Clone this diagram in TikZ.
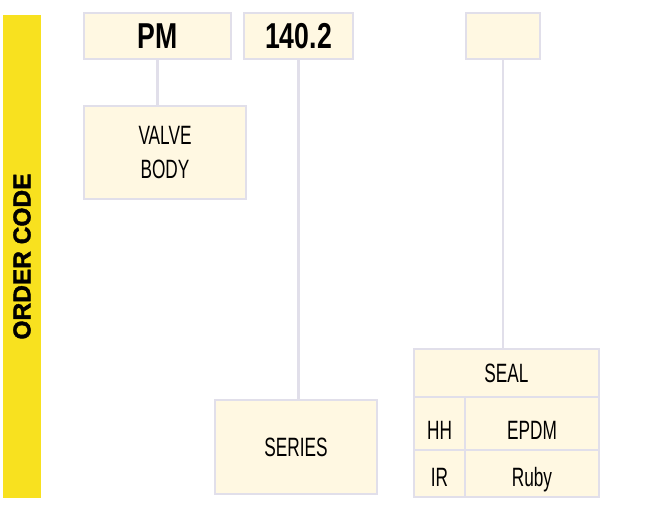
\documentclass[tikz,border=0pt]{standalone}
\usepackage{fontspec}
\setmainfont{Liberation Sans}[FakeStretch=0.65]
\newfontfamily\codefont{Liberation Sans}[FakeStretch=0.74]
\newfontfamily\barfont{Liberation Sans}[FakeBold=1.6]
\usetikzlibrary{positioning}
\definecolor{barYellow}{HTML}{F8E11F}
\definecolor{cellFill}{HTML}{FFF8E2}
\definecolor{cellLine}{HTML}{E1DFEA}

\begin{document}
\begin{tikzpicture}[x=1pt, y=-1pt]
  \tikzset{
    box/.style={draw=cellLine, fill=cellFill, line width=2.6pt, inner sep=0pt, outer sep=0pt,
                font=\fontsize{26.5}{30}\selectfont},
    codebox/.style={box, minimum height=46pt, font=\codefont\bfseries\fontsize{36}{40}\selectfont},
    upper row/.style={text height=31pt, text depth=0pt},
    lower row/.style={text height=26pt, text depth=0pt},
    link/.style={draw=cellLine, line width=2.4pt}
  }
  \useasboundingbox (0,0) rectangle (651,506);
  % order code bar
  \node[fill=barYellow, rotate=90, minimum width=483pt, minimum height=38pt, inner sep=0pt,
        font=\barfont\bfseries\fontsize{24.5}{27}\selectfont] (bar) at (22,256.5) {ORDER CODE};
  % code fields
  \node[codebox, minimum width=147pt] (pm) at (157.5,36) {PM};
  \node[codebox, minimum width=109pt] (series code) at (298.5,36) {140.2};
  \node[codebox, minimum width=74pt] (seal code) at (503,36) {};
  % description boxes
  \node[box, minimum width=162pt, minimum height=93pt, align=center] (body) at (165,152.5) {VALVE\\[4pt]BODY};
  \node[box, minimum width=162pt, minimum height=94pt] (series) at (296,447) {SERIES};
  % seal table
  \node[box, minimum width=185pt, minimum height=48pt] (seal) at (506.5,373) {SEAL};
  \node[box, upper row, minimum width=51pt, minimum height=53pt, anchor=north west] (hh) at (seal.south west) {HH};
  \node[box, upper row, minimum width=134pt, minimum height=53pt, anchor=north west] (epdm) at (hh.north east) {EPDM};
  \node[box, lower row, minimum width=51pt, minimum height=47pt, anchor=north west] (ir) at (hh.south west) {IR};
  \node[box, lower row, minimum width=134pt, minimum height=47pt, anchor=north west] (ruby) at (ir.north east) {Ruby};
  % connectors
  \draw[link] (pm.south) -- (pm.south |- body.north);
  \draw[link] (series code.south) -- (series code.south |- series.north);
  \draw[link] (seal code.south) -- (seal code.south |- seal.north);
\end{tikzpicture}
\end{document}
